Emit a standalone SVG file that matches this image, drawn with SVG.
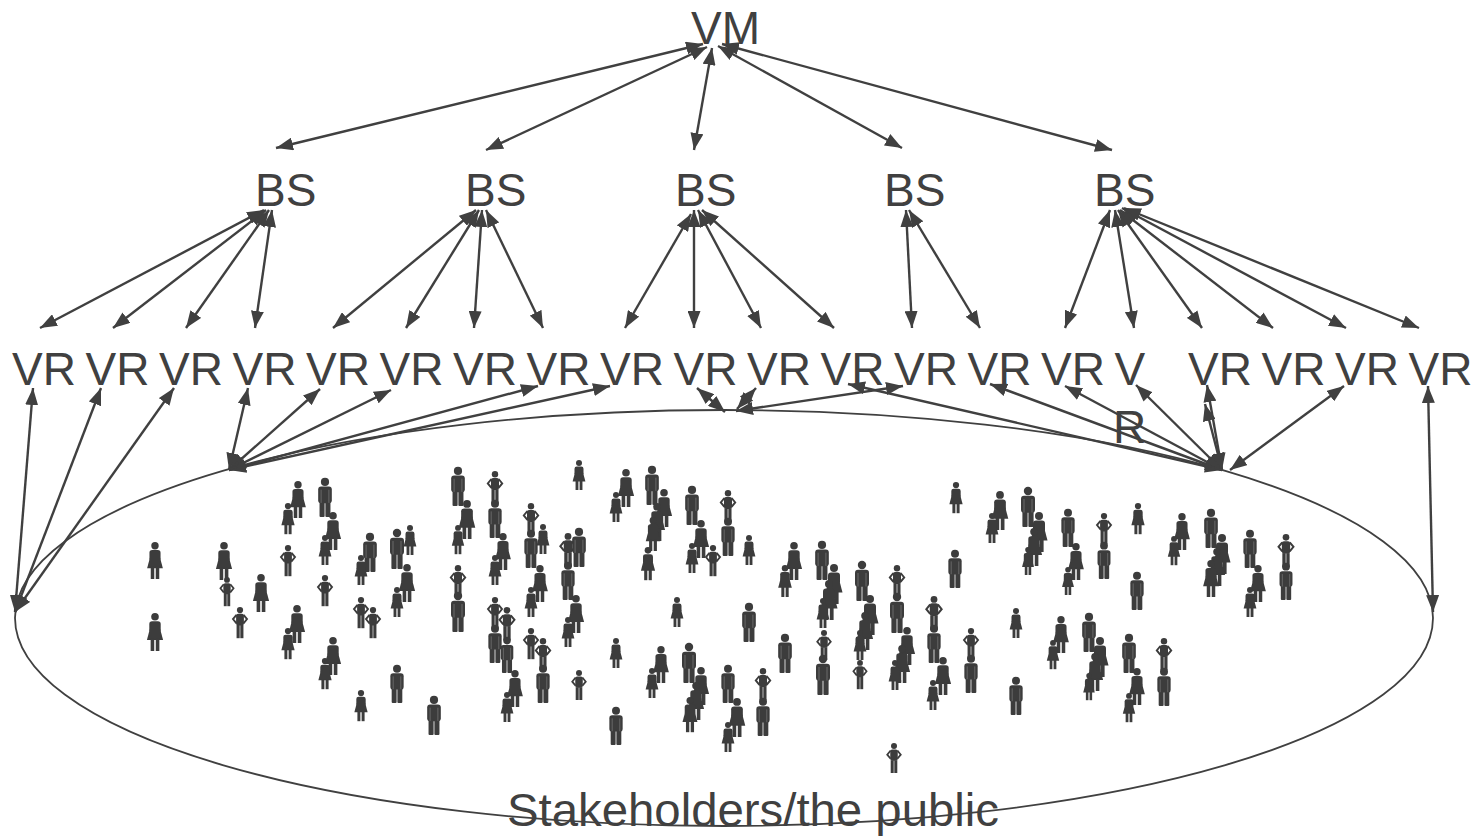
<svg xmlns="http://www.w3.org/2000/svg" xmlns:xlink="http://www.w3.org/1999/xlink" width="1475" height="836" viewBox="0 0 1475 836">
<style>
.t{font-family:"Liberation Sans",Arial,sans-serif;font-size:46px;fill:#404040}
.c line{stroke:#404040;stroke-width:2.4;marker-start:url(#a);marker-end:url(#a)}
.p{fill:#3c3c3c}
.arm{fill:none;stroke:#3c3c3c;stroke-width:2.4}
</style>
<defs>
<marker id="a" viewBox="0 0 17 13" refX="17" refY="6.5" markerWidth="17" markerHeight="13" markerUnits="userSpaceOnUse" orient="auto-start-reverse"><path d="M0,0 L17,6.5 L0,13 z" fill="#404040"/></marker>
<g id="m" class="p"><circle cx="0" cy="4" r="4.2"/><rect x="-7" y="8.8" width="14" height="17" rx="3"/><rect x="-5.6" y="24" width="5.2" height="16" rx="1"/><rect x="0.4" y="24" width="5.2" height="16" rx="1"/><line x1="-4" y1="12" x2="-4" y2="25.5" stroke="#707070" stroke-width="0.9"/><line x1="4" y1="12" x2="4" y2="25.5" stroke="#707070" stroke-width="0.9"/></g>
<g id="w" class="p"><circle cx="0" cy="4" r="4"/><rect x="-6" y="8.6" width="12" height="12" rx="3"/><path d="M-5.5,17 L5.5,17 L8.5,28.5 L-8.5,28.5 Z"/><rect x="-4.6" y="27" width="3.8" height="13"/><rect x="0.8" y="27" width="3.8" height="13"/></g>
<g id="h" class="p"><circle cx="0" cy="4" r="4"/><rect x="-5" y="8.6" width="10" height="15" rx="2.5"/><path class="arm" d="M-4.5,10 L-9,15.5 L-4.5,21 M4.5,10 L9,15.5 L4.5,21"/><rect x="-4.4" y="23" width="4" height="17"/><rect x="0.4" y="23" width="4" height="17"/></g>
</defs>
<rect width="1475" height="836" fill="#ffffff"/>

<g id="connectors" class="c">
<line x1="703" y1="44" x2="276" y2="148"/>
<line x1="707" y1="47" x2="486" y2="150"/>
<line x1="712" y1="48" x2="694" y2="150"/>
<line x1="718" y1="46" x2="902" y2="148"/>
<line x1="722" y1="44" x2="1112" y2="150"/>

<line x1="264" y1="210" x2="40" y2="328"/>
<line x1="266" y1="210" x2="113" y2="328"/>
<line x1="269" y1="210" x2="186" y2="328"/>
<line x1="272" y1="210" x2="255" y2="328"/>

<line x1="476" y1="210" x2="333" y2="328"/>
<line x1="479" y1="210" x2="406" y2="328"/>
<line x1="482" y1="210" x2="474" y2="328"/>
<line x1="486" y1="210" x2="543" y2="328"/>

<line x1="691" y1="214" x2="625" y2="328"/>
<line x1="694" y1="210" x2="694" y2="328"/>
<line x1="698" y1="210" x2="761" y2="328"/>
<line x1="702" y1="210" x2="834" y2="328"/>

<line x1="906" y1="210" x2="912" y2="328"/>
<line x1="909" y1="210" x2="980" y2="328"/>

<line x1="1110" y1="210" x2="1065" y2="328"/>
<line x1="1115" y1="210" x2="1134" y2="328"/>
<line x1="1118" y1="210" x2="1202" y2="328"/>
<line x1="1120" y1="210" x2="1273" y2="328"/>
<line x1="1122" y1="208" x2="1346" y2="328"/>
<line x1="1124" y1="208" x2="1419" y2="328"/>

<line x1="15" y1="612" x2="33" y2="388"/>
<line x1="15" y1="612" x2="101" y2="388"/>
<line x1="15" y1="612" x2="174" y2="388"/>

<line x1="229" y1="470" x2="248" y2="388"/>
<line x1="229" y1="470" x2="320" y2="389"/>
<line x1="229" y1="470" x2="391" y2="390"/>
<line x1="229" y1="470" x2="538" y2="386"/>
<line x1="229" y1="470" x2="610" y2="386"/>

<line x1="725" y1="412" x2="697" y2="388"/>
<line x1="737" y1="409" x2="756" y2="388"/>
<line x1="736" y1="411" x2="903" y2="386"/>

<line x1="1222" y1="470" x2="848" y2="384"/>
<line x1="1222" y1="470" x2="990" y2="384"/>
<line x1="1222" y1="470" x2="1065" y2="386"/>
<line x1="1222" y1="470" x2="1136" y2="385"/>
<line x1="1222" y1="470" x2="1207" y2="385"/>
<line x1="1222" y1="470" x2="1205" y2="404"/>
<line x1="1230" y1="470" x2="1344" y2="386"/>

<line x1="1433" y1="612" x2="1428" y2="386"/>
</g>

<g id="VM"><text class="t" x="691" y="44">VM</text></g>
<g id="BS1"><text class="t" x="255" y="206">BS</text></g>
<g id="BS2"><text class="t" x="465" y="206">BS</text></g>
<g id="BS3"><text class="t" x="675" y="206">BS</text></g>
<g id="BS4"><text class="t" x="884" y="206">BS</text></g>
<g id="BS5"><text class="t" x="1094" y="206">BS</text></g>

<g id="VR0"><text class="t" x="12" y="385">VR</text></g>
<g id="VR1"><text class="t" x="85.5" y="385">VR</text></g>
<g id="VR2"><text class="t" x="159" y="385">VR</text></g>
<g id="VR3"><text class="t" x="232.5" y="385">VR</text></g>
<g id="VR4"><text class="t" x="306" y="385">VR</text></g>
<g id="VR5"><text class="t" x="379.5" y="385">VR</text></g>
<g id="VR6"><text class="t" x="453" y="385">VR</text></g>
<g id="VR7"><text class="t" x="526.5" y="385">VR</text></g>
<g id="VR8"><text class="t" x="600" y="385">VR</text></g>
<g id="VR9"><text class="t" x="673.5" y="385">VR</text></g>
<g id="VR10"><text class="t" x="747" y="385">VR</text></g>
<g id="VR11"><text class="t" x="820.5" y="385">VR</text></g>
<g id="VR12"><text class="t" x="894" y="385">VR</text></g>
<g id="VR13"><text class="t" x="967.5" y="385">VR</text></g>
<g id="VR14"><text class="t" x="1041" y="385">VR</text></g>
<g id="VR15"><text class="t"><tspan x="1114.5" y="385">V</tspan><tspan x="1113" y="443">R</tspan></text></g>
<g id="VR16"><text class="t" x="1188" y="385">VR</text></g>
<g id="VR17"><text class="t" x="1261.5" y="385">VR</text></g>
<g id="VR18"><text class="t" x="1335" y="385">VR</text></g>
<g id="VR19"><text class="t" x="1408.5" y="385">VR</text></g>

<g id="stakeholders">
<ellipse cx="724" cy="618" rx="709" ry="208" fill="none" stroke="#404040" stroke-width="1.8"/>
<text class="t" x="507" y="826" textLength="492" lengthAdjust="spacingAndGlyphs">Stakeholders/the public</text>
<g id="crowd">
<use xlink:href="#w" transform="translate(155,542) scale(0.925)"/>
<use xlink:href="#w" transform="translate(155,613) scale(0.95)"/>
<use xlink:href="#w" transform="translate(224,542) scale(0.95)"/>
<use xlink:href="#h" transform="translate(227,577) scale(0.73)"/>
<use xlink:href="#w" transform="translate(261,574) scale(0.95)"/>
<use xlink:href="#h" transform="translate(240,607) scale(0.78)"/>
<use xlink:href="#w" transform="translate(298,481) scale(0.925)"/>
<use xlink:href="#w" transform="translate(288,503) scale(0.78)"/>
<use xlink:href="#m" transform="translate(325,478) scale(0.975)"/>
<use xlink:href="#w" transform="translate(333,512) scale(0.95)"/>
<use xlink:href="#w" transform="translate(325,535) scale(0.75)"/>
<use xlink:href="#h" transform="translate(288,545) scale(0.78)"/>
<use xlink:href="#h" transform="translate(325,575) scale(0.78)"/>
<use xlink:href="#w" transform="translate(297,605) scale(0.95)"/>
<use xlink:href="#w" transform="translate(288,628) scale(0.78)"/>
<use xlink:href="#w" transform="translate(333,637) scale(0.95)"/>
<use xlink:href="#w" transform="translate(325,658) scale(0.78)"/>
<use xlink:href="#m" transform="translate(370,533) scale(0.975)"/>
<use xlink:href="#w" transform="translate(361,555) scale(0.75)"/>
<use xlink:href="#m" transform="translate(397,529) scale(1)"/>
<use xlink:href="#w" transform="translate(410,525) scale(0.75)"/>
<use xlink:href="#w" transform="translate(407,564) scale(0.95)"/>
<use xlink:href="#w" transform="translate(397,587) scale(0.75)"/>
<use xlink:href="#h" transform="translate(361,597) scale(0.78)"/>
<use xlink:href="#h" transform="translate(373,607) scale(0.78)"/>
<use xlink:href="#m" transform="translate(397,665) scale(0.95)"/>
<use xlink:href="#w" transform="translate(361,690) scale(0.78)"/>
<use xlink:href="#m" transform="translate(434,696) scale(0.975)"/>
<use xlink:href="#m" transform="translate(458,467) scale(0.975)"/>
<use xlink:href="#h" transform="translate(495,471) scale(0.8)"/>
<use xlink:href="#w" transform="translate(467,500) scale(0.975)"/>
<use xlink:href="#w" transform="translate(458,525) scale(0.73)"/>
<use xlink:href="#m" transform="translate(495,500) scale(0.95)"/>
<use xlink:href="#w" transform="translate(503,533) scale(0.925)"/>
<use xlink:href="#w" transform="translate(495,555) scale(0.75)"/>
<use xlink:href="#h" transform="translate(531,503) scale(0.8)"/>
<use xlink:href="#w" transform="translate(543,524) scale(0.75)"/>
<use xlink:href="#m" transform="translate(531,530) scale(0.95)"/>
<use xlink:href="#w" transform="translate(540,565) scale(0.925)"/>
<use xlink:href="#w" transform="translate(531,587) scale(0.75)"/>
<use xlink:href="#h" transform="translate(568,533) scale(0.85)"/>
<use xlink:href="#m" transform="translate(579,528) scale(0.975)"/>
<use xlink:href="#m" transform="translate(568,562) scale(0.95)"/>
<use xlink:href="#w" transform="translate(576,595) scale(0.95)"/>
<use xlink:href="#w" transform="translate(568,617) scale(0.75)"/>
<use xlink:href="#w" transform="translate(579,460) scale(0.75)"/>
<use xlink:href="#h" transform="translate(458,565) scale(0.8)"/>
<use xlink:href="#m" transform="translate(458,592) scale(1)"/>
<use xlink:href="#h" transform="translate(495,597) scale(0.78)"/>
<use xlink:href="#h" transform="translate(507,607) scale(0.83)"/>
<use xlink:href="#m" transform="translate(495,625) scale(0.95)"/>
<use xlink:href="#m" transform="translate(507,637) scale(0.9)"/>
<use xlink:href="#h" transform="translate(531,628) scale(0.78)"/>
<use xlink:href="#h" transform="translate(543,638) scale(0.8)"/>
<use xlink:href="#m" transform="translate(543,665) scale(0.95)"/>
<use xlink:href="#w" transform="translate(515,670) scale(0.925)"/>
<use xlink:href="#w" transform="translate(507,692) scale(0.75)"/>
<use xlink:href="#h" transform="translate(579,670) scale(0.75)"/>
<use xlink:href="#w" transform="translate(626,469) scale(0.95)"/>
<use xlink:href="#w" transform="translate(616,492) scale(0.75)"/>
<use xlink:href="#m" transform="translate(652,466) scale(0.975)"/>
<use xlink:href="#w" transform="translate(664,489) scale(0.95)"/>
<use xlink:href="#w" transform="translate(657,503) scale(0.95)"/>
<use xlink:href="#w" transform="translate(653,517) scale(0.85)"/>
<use xlink:href="#w" transform="translate(648,547) scale(0.83)"/>
<use xlink:href="#m" transform="translate(692,486) scale(0.975)"/>
<use xlink:href="#w" transform="translate(701,520) scale(0.95)"/>
<use xlink:href="#w" transform="translate(692,543) scale(0.75)"/>
<use xlink:href="#h" transform="translate(713,545) scale(0.78)"/>
<use xlink:href="#h" transform="translate(728,490) scale(0.8)"/>
<use xlink:href="#m" transform="translate(728,518) scale(0.95)"/>
<use xlink:href="#w" transform="translate(749,535) scale(0.75)"/>
<use xlink:href="#w" transform="translate(677,597) scale(0.75)"/>
<use xlink:href="#m" transform="translate(749,603) scale(0.975)"/>
<use xlink:href="#w" transform="translate(616,638) scale(0.75)"/>
<use xlink:href="#w" transform="translate(661,646) scale(0.925)"/>
<use xlink:href="#w" transform="translate(652,668) scale(0.75)"/>
<use xlink:href="#m" transform="translate(689,643) scale(1)"/>
<use xlink:href="#w" transform="translate(701,667) scale(0.95)"/>
<use xlink:href="#w" transform="translate(696,682) scale(0.95)"/>
<use xlink:href="#w" transform="translate(690,697) scale(0.88)"/>
<use xlink:href="#m" transform="translate(728,665) scale(0.95)"/>
<use xlink:href="#w" transform="translate(737,698) scale(0.975)"/>
<use xlink:href="#w" transform="translate(728,722) scale(0.75)"/>
<use xlink:href="#h" transform="translate(763,668) scale(0.8)"/>
<use xlink:href="#m" transform="translate(763,698) scale(0.95)"/>
<use xlink:href="#m" transform="translate(616,707) scale(0.95)"/>
<use xlink:href="#w" transform="translate(956,482) scale(0.78)"/>
<use xlink:href="#w" transform="translate(1000,491) scale(0.975)"/>
<use xlink:href="#w" transform="translate(992,513) scale(0.75)"/>
<use xlink:href="#m" transform="translate(1028,487) scale(1)"/>
<use xlink:href="#w" transform="translate(1039,512) scale(1)"/>
<use xlink:href="#w" transform="translate(1034,528) scale(0.95)"/>
<use xlink:href="#w" transform="translate(1028,547) scale(0.7)"/>
<use xlink:href="#m" transform="translate(955,550) scale(0.95)"/>
<use xlink:href="#w" transform="translate(794,542) scale(0.95)"/>
<use xlink:href="#w" transform="translate(785,565) scale(0.8)"/>
<use xlink:href="#m" transform="translate(822,541) scale(0.975)"/>
<use xlink:href="#w" transform="translate(834,564) scale(1)"/>
<use xlink:href="#w" transform="translate(829,580) scale(1)"/>
<use xlink:href="#w" transform="translate(823,598) scale(0.75)"/>
<use xlink:href="#m" transform="translate(862,561) scale(1)"/>
<use xlink:href="#w" transform="translate(870,595) scale(1)"/>
<use xlink:href="#w" transform="translate(865,612) scale(0.95)"/>
<use xlink:href="#w" transform="translate(860,630) scale(0.75)"/>
<use xlink:href="#h" transform="translate(897,565) scale(0.8)"/>
<use xlink:href="#m" transform="translate(897,593) scale(1)"/>
<use xlink:href="#w" transform="translate(907,627) scale(0.95)"/>
<use xlink:href="#w" transform="translate(902,645) scale(0.95)"/>
<use xlink:href="#w" transform="translate(895,660) scale(0.75)"/>
<use xlink:href="#h" transform="translate(934,596) scale(0.85)"/>
<use xlink:href="#m" transform="translate(934,625) scale(0.95)"/>
<use xlink:href="#w" transform="translate(943,657) scale(0.95)"/>
<use xlink:href="#w" transform="translate(933,680) scale(0.75)"/>
<use xlink:href="#h" transform="translate(971,628) scale(0.78)"/>
<use xlink:href="#m" transform="translate(971,655) scale(0.95)"/>
<use xlink:href="#w" transform="translate(1016,608) scale(0.75)"/>
<use xlink:href="#m" transform="translate(1016,677) scale(0.95)"/>
<use xlink:href="#m" transform="translate(785,634) scale(0.975)"/>
<use xlink:href="#h" transform="translate(824,630) scale(0.75)"/>
<use xlink:href="#m" transform="translate(823,655) scale(1)"/>
<use xlink:href="#h" transform="translate(860,660) scale(0.73)"/>
<use xlink:href="#h" transform="translate(894,743) scale(0.75)"/>
<use xlink:href="#m" transform="translate(1068,509) scale(0.95)"/>
<use xlink:href="#w" transform="translate(1076,543) scale(0.925)"/>
<use xlink:href="#w" transform="translate(1068,567) scale(0.7)"/>
<use xlink:href="#h" transform="translate(1104,513) scale(0.78)"/>
<use xlink:href="#m" transform="translate(1104,542) scale(0.925)"/>
<use xlink:href="#w" transform="translate(1138,503) scale(0.78)"/>
<use xlink:href="#m" transform="translate(1137,572) scale(0.95)"/>
<use xlink:href="#w" transform="translate(1182,513) scale(0.925)"/>
<use xlink:href="#w" transform="translate(1174,536) scale(0.73)"/>
<use xlink:href="#m" transform="translate(1211,509) scale(0.975)"/>
<use xlink:href="#w" transform="translate(1222,534) scale(1)"/>
<use xlink:href="#w" transform="translate(1217,548) scale(0.95)"/>
<use xlink:href="#w" transform="translate(1211,560) scale(0.925)"/>
<use xlink:href="#m" transform="translate(1250,530) scale(0.95)"/>
<use xlink:href="#w" transform="translate(1258,565) scale(0.925)"/>
<use xlink:href="#w" transform="translate(1250,587) scale(0.75)"/>
<use xlink:href="#h" transform="translate(1286,534) scale(0.83)"/>
<use xlink:href="#m" transform="translate(1286,563) scale(0.925)"/>
<use xlink:href="#w" transform="translate(1061,616) scale(0.925)"/>
<use xlink:href="#w" transform="translate(1053,640) scale(0.73)"/>
<use xlink:href="#m" transform="translate(1089,613) scale(0.975)"/>
<use xlink:href="#w" transform="translate(1100,637) scale(1)"/>
<use xlink:href="#w" transform="translate(1095,653) scale(0.95)"/>
<use xlink:href="#w" transform="translate(1089,673) scale(0.68)"/>
<use xlink:href="#m" transform="translate(1129,634) scale(0.975)"/>
<use xlink:href="#w" transform="translate(1137,668) scale(0.925)"/>
<use xlink:href="#w" transform="translate(1129,693) scale(0.73)"/>
<use xlink:href="#h" transform="translate(1164,638) scale(0.8)"/>
<use xlink:href="#m" transform="translate(1164,668) scale(0.95)"/>
</g>
</g>
</svg>
